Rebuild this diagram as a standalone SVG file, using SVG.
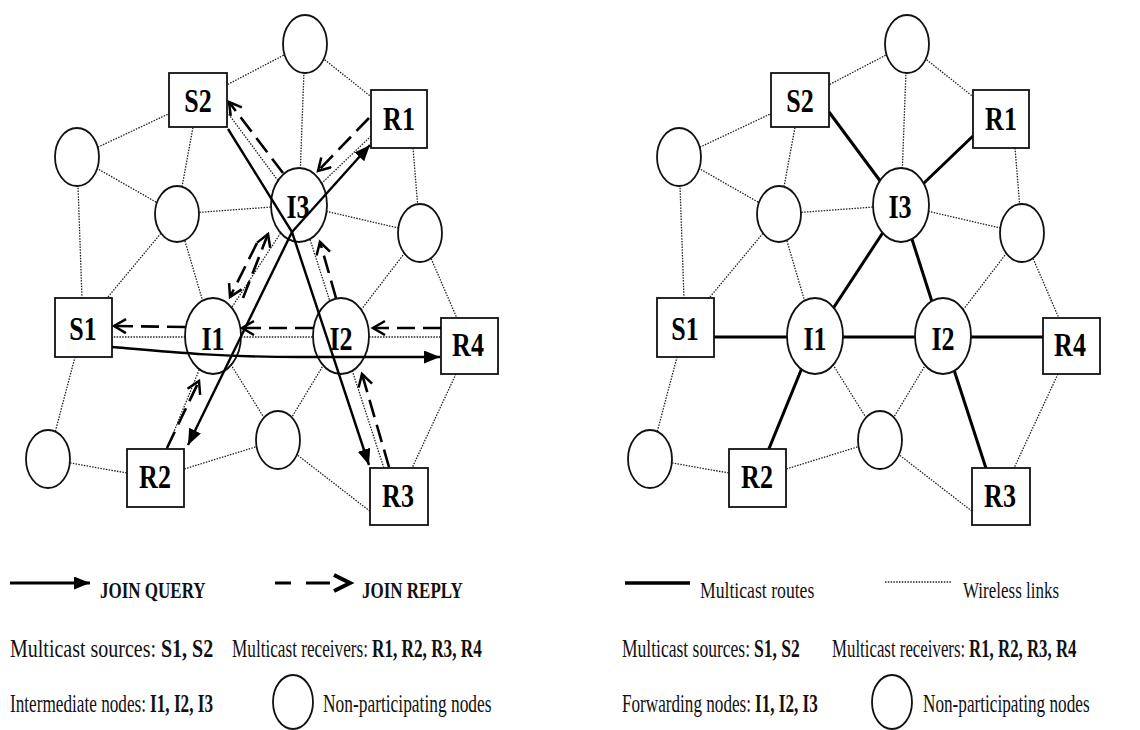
<svg xmlns="http://www.w3.org/2000/svg" width="1140" height="730" viewBox="0 0 1140 730">
<style>
.n{fill:#fff;stroke:#111;stroke-width:1.8}
.w{stroke:#222;stroke-width:1.3;stroke-dasharray:1.5 1.3;fill:none}
.q{stroke:#000;stroke-width:2.4;fill:none}
.r{stroke:#000;stroke-width:2.6;fill:none;stroke-dasharray:18 8}
.m{stroke:#000;stroke-width:3;fill:none}
.lb{font-family:"Liberation Serif","Times New Roman",serif;font-weight:bold;font-size:26px;text-anchor:middle;fill:#000}
.lg{font-family:"Liberation Serif","Times New Roman",serif;font-size:20px;fill:#111}
.lh{font-family:"Liberation Serif","Times New Roman",serif;font-size:17px;fill:#111}
.b{font-weight:bold}
</style>
<defs>
<marker id="ah" markerUnits="userSpaceOnUse" markerWidth="18" markerHeight="14" refX="16" refY="6.5" orient="auto"><path d="M0,0 L16,6.5 L0,13 Z" fill="#000"/></marker>
<marker id="ch" markerUnits="userSpaceOnUse" markerWidth="18" markerHeight="18" refX="14" refY="8" orient="auto"><path d="M2,1 L14,8 L2,15" fill="none" stroke="#000" stroke-width="2.5" stroke-dasharray="none"/></marker>
</defs>

<!-- LEFT DIAGRAM -->
<g id="L-links" class="w">
<line x1="198" y1="100" x2="305" y2="44"/>
<line x1="198" y1="100" x2="77" y2="157"/>
<line x1="198" y1="100" x2="177" y2="214"/>
<line x1="305" y1="44" x2="399" y2="119"/>
<line x1="305" y1="44" x2="299" y2="205"/>
<line x1="413" y1="148" x2="420" y2="233"/>
<line x1="77" y1="157" x2="177" y2="214"/>
<line x1="77" y1="157" x2="83" y2="327"/>
<line x1="177" y1="214" x2="299" y2="205"/>
<line x1="177" y1="214" x2="83" y2="327"/>
<line x1="177" y1="214" x2="213" y2="336"/>
<line x1="299" y1="205" x2="420" y2="233"/>
<line x1="420" y1="233" x2="341" y2="336"/>
<line x1="420" y1="233" x2="469" y2="346"/>
<line x1="83" y1="327" x2="48" y2="459"/>
<line x1="48" y1="459" x2="155" y2="478"/>
<line x1="155" y1="478" x2="278" y2="440"/>
<line x1="213" y1="336" x2="278" y2="440"/>
<line x1="278" y1="440" x2="341" y2="336"/>
<line x1="278" y1="440" x2="380" y2="519"/>
<line x1="469" y1="346" x2="399" y2="496"/>
<line x1="227" y1="112" x2="296" y2="205"/>
<line x1="371" y1="136" x2="299" y2="205"/>
<line x1="299" y1="205" x2="213" y2="336"/>
<line x1="299" y1="205" x2="341" y2="336"/>
<line x1="83" y1="337" x2="213" y2="337"/>
<line x1="213" y1="337" x2="341" y2="337"/>
<line x1="341" y1="337" x2="469" y2="337"/>
<line x1="213" y1="336" x2="155" y2="478"/>
<line x1="341" y1="336" x2="393" y2="496"/>
</g>

<g id="L-nodes">
<g id="L-n1"><ellipse class="n" cx="305" cy="44" rx="22" ry="29"/></g>
<g id="L-n2"><ellipse class="n" cx="77" cy="157" rx="22" ry="29"/></g>
<g id="L-n3"><ellipse class="n" cx="177" cy="214" rx="22" ry="28"/></g>
<g id="L-n4"><ellipse class="n" cx="420" cy="233" rx="22" ry="29"/></g>
<g id="L-n5"><ellipse class="n" cx="48" cy="459" rx="22" ry="29"/></g>
<g id="L-n6"><ellipse class="n" cx="278" cy="440" rx="22" ry="29"/></g>
<g id="L-S2"><rect class="n" x="169" y="73" width="58" height="54"/><text class="lb" transform="translate(198,112) scale(1,1.3)">S2</text></g>
<g id="L-R1"><rect class="n" x="371" y="90" width="56" height="58"/><text class="lb" transform="translate(399,130) scale(1,1.3)">R1</text></g>
<g id="L-S1"><rect class="n" x="55" y="298" width="57" height="59"/><text class="lb" transform="translate(83,340) scale(1,1.3)">S1</text></g>
<g id="L-R4"><rect class="n" x="441" y="318" width="57" height="56"/><text class="lb" transform="translate(468,356) scale(1,1.3)">R4</text></g>
<g id="L-R2"><rect class="n" x="127" y="449" width="57" height="58"/><text class="lb" transform="translate(155,488) scale(1,1.3)">R2</text></g>
<g id="L-R3"><rect class="n" x="370" y="468" width="58" height="57"/><text class="lb" transform="translate(398,507) scale(1,1.3)">R3</text></g>
<g id="L-I3"><ellipse class="n" cx="299" cy="205" rx="28" ry="37"/><text class="lb" transform="translate(298,218) scale(1,1.3)">I3</text></g>
<g id="L-I1"><ellipse class="n" cx="213" cy="336" rx="28" ry="38"/><text class="lb" transform="translate(213,350) scale(1,1.3)">I1</text></g>
<g id="L-I2"><ellipse class="n" cx="341" cy="336" rx="28" ry="38"/><text class="lb" transform="translate(341,350) scale(1,1.3)">I2</text></g>
</g>

<g id="L-arrows">
<path class="q" d="M228,129 L292,232 L369,465" marker-end="url(#ah)"/>
<path class="q" d="M292,232 L370,145" marker-end="url(#ah)"/>
<path class="q" d="M292,232 L188,445" marker-end="url(#ah)"/>
<path class="q" d="M112,347 C170,352 220,357 300,357 L440,357" marker-end="url(#ah)"/>
<path class="r" d="M441,328 L373,328" marker-end="url(#ch)"/>
<path class="r" d="M313,328 L242,328" marker-end="url(#ch)"/>
<path class="r" d="M185,327 L114,326" marker-end="url(#ch)"/>
<path class="r" d="M369,118 L318,171" marker-end="url(#ch)"/>
<path class="r" d="M283,173 L229,102" marker-end="url(#ch)"/>
<path class="r" d="M257,243 L230,297" marker-end="url(#ch)"/>
<path class="r" d="M243,298 L268,234" marker-end="url(#ch)"/>
<path class="r" d="M167,448 L199,381" marker-end="url(#ch)"/>
<path class="r" d="M389,467 L362,374" marker-end="url(#ch)"/>
<path class="r" d="M336,298 L320,242" marker-end="url(#ch)"/>
</g>

<!-- RIGHT DIAGRAM -->
<g transform="translate(602,0)">
<g id="R-links">
<g class="w">
<line x1="198" y1="100" x2="305" y2="44"/>
<line x1="198" y1="100" x2="77" y2="157"/>
<line x1="198" y1="100" x2="177" y2="214"/>
<line x1="305" y1="44" x2="399" y2="119"/>
<line x1="305" y1="44" x2="299" y2="205"/>
<line x1="413" y1="148" x2="420" y2="233"/>
<line x1="77" y1="157" x2="177" y2="214"/>
<line x1="77" y1="157" x2="83" y2="327"/>
<line x1="177" y1="214" x2="299" y2="205"/>
<line x1="177" y1="214" x2="83" y2="327"/>
<line x1="177" y1="214" x2="213" y2="336"/>
<line x1="299" y1="205" x2="420" y2="233"/>
<line x1="420" y1="233" x2="341" y2="336"/>
<line x1="420" y1="233" x2="469" y2="346"/>
<line x1="83" y1="327" x2="48" y2="459"/>
<line x1="48" y1="459" x2="155" y2="478"/>
<line x1="155" y1="478" x2="278" y2="440"/>
<line x1="213" y1="336" x2="278" y2="440"/>
<line x1="278" y1="440" x2="341" y2="336"/>
<line x1="278" y1="440" x2="380" y2="519"/>
<line x1="469" y1="346" x2="399" y2="496"/>
</g>
<g class="m">
<line x1="227" y1="112" x2="296" y2="205"/>
<line x1="371" y1="136" x2="299" y2="205"/>
<line x1="299" y1="205" x2="213" y2="336"/>
<line x1="299" y1="205" x2="341" y2="336"/>
<line x1="83" y1="337" x2="213" y2="337"/>
<line x1="213" y1="337" x2="341" y2="337"/>
<line x1="341" y1="337" x2="469" y2="337"/>
<line x1="213" y1="336" x2="155" y2="478"/>
<line x1="341" y1="336" x2="393" y2="496"/>
</g>
</g>
<g id="R-nodes">
<g id="R-n1"><ellipse class="n" cx="305" cy="44" rx="22" ry="29"/></g>
<g id="R-n2"><ellipse class="n" cx="77" cy="157" rx="22" ry="29"/></g>
<g id="R-n3"><ellipse class="n" cx="177" cy="214" rx="22" ry="28"/></g>
<g id="R-n4"><ellipse class="n" cx="420" cy="233" rx="22" ry="29"/></g>
<g id="R-n5"><ellipse class="n" cx="48" cy="459" rx="22" ry="29"/></g>
<g id="R-n6"><ellipse class="n" cx="278" cy="440" rx="22" ry="29"/></g>
<g id="R-S2"><rect class="n" x="169" y="73" width="58" height="54"/><text class="lb" transform="translate(198,112) scale(1,1.3)">S2</text></g>
<g id="R-R1"><rect class="n" x="371" y="90" width="56" height="58"/><text class="lb" transform="translate(399,130) scale(1,1.3)">R1</text></g>
<g id="R-S1"><rect class="n" x="55" y="298" width="57" height="59"/><text class="lb" transform="translate(83,340) scale(1,1.3)">S1</text></g>
<g id="R-R4"><rect class="n" x="441" y="318" width="57" height="56"/><text class="lb" transform="translate(468,356) scale(1,1.3)">R4</text></g>
<g id="R-R2"><rect class="n" x="127" y="449" width="57" height="58"/><text class="lb" transform="translate(155,488) scale(1,1.3)">R2</text></g>
<g id="R-R3"><rect class="n" x="370" y="468" width="58" height="57"/><text class="lb" transform="translate(398,507) scale(1,1.3)">R3</text></g>
<g id="R-I3"><ellipse class="n" cx="299" cy="205" rx="28" ry="37"/><text class="lb" transform="translate(298,218) scale(1,1.3)">I3</text></g>
<g id="R-I1"><ellipse class="n" cx="213" cy="336" rx="28" ry="38"/><text class="lb" transform="translate(213,350) scale(1,1.3)">I1</text></g>
<g id="R-I2"><ellipse class="n" cx="341" cy="336" rx="28" ry="38"/><text class="lb" transform="translate(341,350) scale(1,1.3)">I2</text></g>
</g>
</g>

<!-- LEGENDS -->
<g id="legend-left">
<path d="M10,583 L90,583" stroke="#000" stroke-width="3" marker-end="url(#ah)"/>
<text class="lh b" transform="translate(100,598) scale(1,1.3)">JOIN QUERY</text>
<path d="M275,583 H291 M306,583 H330" stroke="#000" stroke-width="3"/>
<path d="M334,575 L350,583 L334,591" fill="none" stroke="#000" stroke-width="4"/>
<text class="lh b" transform="translate(362,598) scale(1,1.3)">JOIN REPLY</text>
<text class="lg" transform="translate(10,657) scale(1,1.3)">Multicast sources:</text>
<text class="lg b" transform="translate(161,657) scale(1,1.3)">S1, S2</text>
<text class="lg" transform="translate(232,657) scale(0.86,1.3)">Multicast receivers:</text>
<text class="lg b" transform="translate(372,657) scale(0.86,1.3)">R1, R2, R3, R4</text>
<text class="lg" transform="translate(10,712) scale(0.86,1.3)">Intermediate nodes:</text>
<text class="lg b" transform="translate(150,712) scale(0.86,1.3)">I1, I2, I3</text>
<ellipse class="n" cx="293" cy="702" rx="20" ry="27"/>
<text class="lg" transform="translate(323,712) scale(0.87,1.3)">Non-participating nodes</text>
</g>
<g id="legend-right">
<path d="M625,583 L690,583" stroke="#000" stroke-width="3.5"/>
<text class="lh" transform="translate(700,598) scale(1.04,1.3)">Multicast routes</text>
<path class="w" d="M885,582 L952,582"/>
<text class="lh" transform="translate(963,598) scale(1,1.3)">Wireless links</text>
<text class="lg" transform="translate(622,657) scale(0.877,1.3)">Multicast sources:</text>
<text class="lg b" transform="translate(754,657) scale(0.877,1.3)">S1, S2</text>
<text class="lg" transform="translate(832,657) scale(0.842,1.3)">Multicast receivers:</text>
<text class="lg b" transform="translate(969,657) scale(0.842,1.3)">R1, R2, R3, R4</text>
<text class="lg" transform="translate(622,712) scale(0.857,1.3)">Forwarding nodes:</text>
<text class="lg b" transform="translate(755,712) scale(0.857,1.3)">I1, I2, I3</text>
<ellipse class="n" cx="892" cy="702" rx="20" ry="27"/>
<text class="lg" transform="translate(923,712) scale(0.86,1.3)">Non-participating nodes</text>
</g>
</svg>
